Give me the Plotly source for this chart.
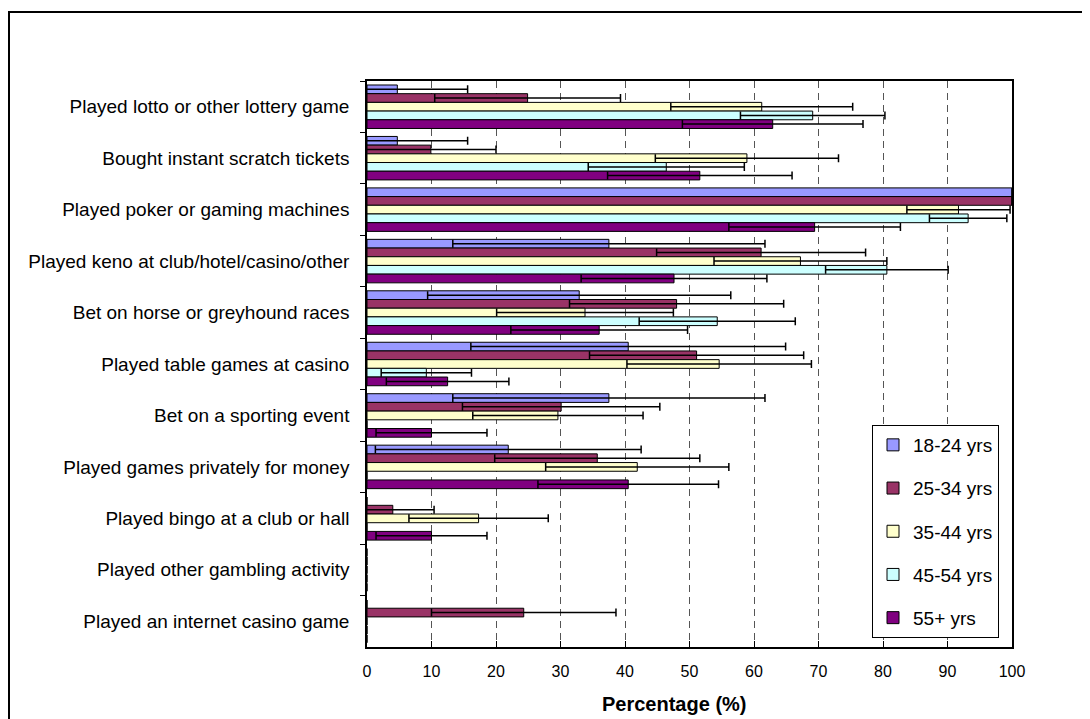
import plotly.graph_objects as go

categories = [
    "Played lotto or other lottery game",
    "Bought instant scratch tickets",
    "Played poker or gaming machines",
    "Played keno at club/hotel/casino/other",
    "Bet on horse or greyhound races",
    "Played table games at casino",
    "Bet on a sporting event",
    "Played games privately for money",
    "Played bingo at a club or hall",
    "Played other gambling activity",
    "Played an internet casino game",
]

series_names = ["18-24 yrs", "25-34 yrs", "35-44 yrs", "45-54 yrs", "55+ yrs"]

v_18_24 = [4.7, 4.7, 100, 37.5, 32.9, 40.5, 37.5, 21.9, 0, 0, 0]
e_18_24 = [10.9, 10.9, 0, 24.2, 23.5, 24.4, 24.2, 20.6, None, None, None]
v_25_34 = [24.9, 9.9, 100, 61.1, 48.0, 51.1, 30.1, 35.7, 4.0, 0, 24.3]
e_25_34 = [14.4, 10.1, 0, 16.2, 16.6, 16.6, 15.3, 15.9, 6.4, None, 14.3]
v_35_44 = [61.2, 58.9, 91.7, 67.2, 33.8, 54.6, 29.6, 41.9, 17.3, 0, 0]
e_35_44 = [14.1, 14.2, 8.0, 13.4, 13.7, 14.3, 13.2, 14.2, 10.8, None, None]
v_45_54 = [69.1, 46.4, 93.2, 80.6, 54.3, 9.2, 0, 0, 0, 0, 0]
e_45_54 = [11.2, 12.1, 6.0, 9.5, 12.1, 7.0, None, None, None, None, None]
v_55 = [62.9, 51.6, 69.4, 47.6, 36.0, 12.5, 10.0, 40.5, 10.0, 0, 0]
e_55 = [14.0, 14.3, 13.3, 14.4, 13.7, 9.5, 8.6, 14.0, 8.6, None, None]

x_ticks = [0, 10, 20, 30, 40, 50, 60, 70, 80, 90, 100]

values = [v_18_24, v_25_34, v_35_44, v_45_54, v_55]
errors = [e_18_24, e_25_34, e_35_44, e_45_54, e_55]
colors = ["#9999FF", "#993366", "#FFFFCC", "#CCFFFF", "#800080"]

FONT = "Liberation Sans, Arial, sans-serif"

# page offset of the figure (browser body margin)
OFF = 8
W, H = 1090 - OFF, 719 - OFF
# plot area in page pixels
L, R, T, B = 367 - OFF, 1012 - OFF, 81 - OFF, 647 - OFF
pw, ph = R - L, B - T

def px_x(x):
    return (x - OFF - L) / pw

def px_y(y):
    return (B - (y - OFF)) / ph

fig = go.Figure()
for name, vals, errs, col in zip(series_names, values, errors, colors):
    fig.add_trace(go.Bar(
        y=categories, x=vals, orientation="h", name=name,
        legendgroup=name,
        marker=dict(color=col,
                    line=dict(color="black",
                              width=[1 if v else 0 for v in vals])),
        error_x=dict(type="data", array=errs, symmetric=True,
                     color="black", thickness=1.5, width=4, visible=True),
    ))

fig.update_layout(
    width=W, height=H,
    margin=dict(l=L, r=W - R, t=T, b=H - B, pad=0),
    paper_bgcolor="white", plot_bgcolor="white",
    font=dict(family=FONT, size=19, color="black"),
    barmode="group", bargap=0.155, bargroupgap=0,
    showlegend=True,
    legend=dict(
        x=px_x(872), y=px_y(425), xanchor="left", yanchor="top",
        bgcolor="white", bordercolor="black", borderwidth=1,
        font=dict(family=FONT, size=19, color="black"),
        traceorder="grouped", tracegroupgap=15.5,
        itemwidth=30,
    ),
    xaxis=dict(
        range=[0, 100], tickvals=x_ticks, ticktext=[str(t) for t in x_ticks],
        showgrid=True, gridcolor="#555555", gridwidth=1, griddash="7px,5px",
        showline=True, linecolor="black", linewidth=1.5, mirror=True,
        ticks="inside", ticklen=6, tickcolor="black",
        tickfont=dict(family=FONT, size=16, color="black"),
        ticklabelstandoff=9,
        zeroline=False, fixedrange=True,
    ),
    yaxis=dict(
        type="category", autorange="reversed",
        showline=True, linecolor="black", linewidth=1.5, mirror=True,
        ticks="outside", ticklen=5, tickcolor="black", tickson="boundaries",
        tickfont=dict(family=FONT, size=19, color="black"),
        ticklabelstandoff=12,
        showgrid=False, zeroline=False, fixedrange=True,
    ),
    annotations=[dict(
        text="<b>Percentage (%)</b>", xref="paper", yref="paper",
        x=px_x(674), y=px_y(704), xanchor="center", yanchor="middle",
        showarrow=False, font=dict(family=FONT, size=20, color="black"),
    )],
    shapes=[dict(
        type="rect", xref="paper", yref="paper",
        x0=px_x(9), x1=px_x(1100), y0=px_y(730), y1=px_y(12),
        line=dict(color="black", width=2), fillcolor="rgba(0,0,0,0)",
    )],
)

fig.write_html("out.html")
